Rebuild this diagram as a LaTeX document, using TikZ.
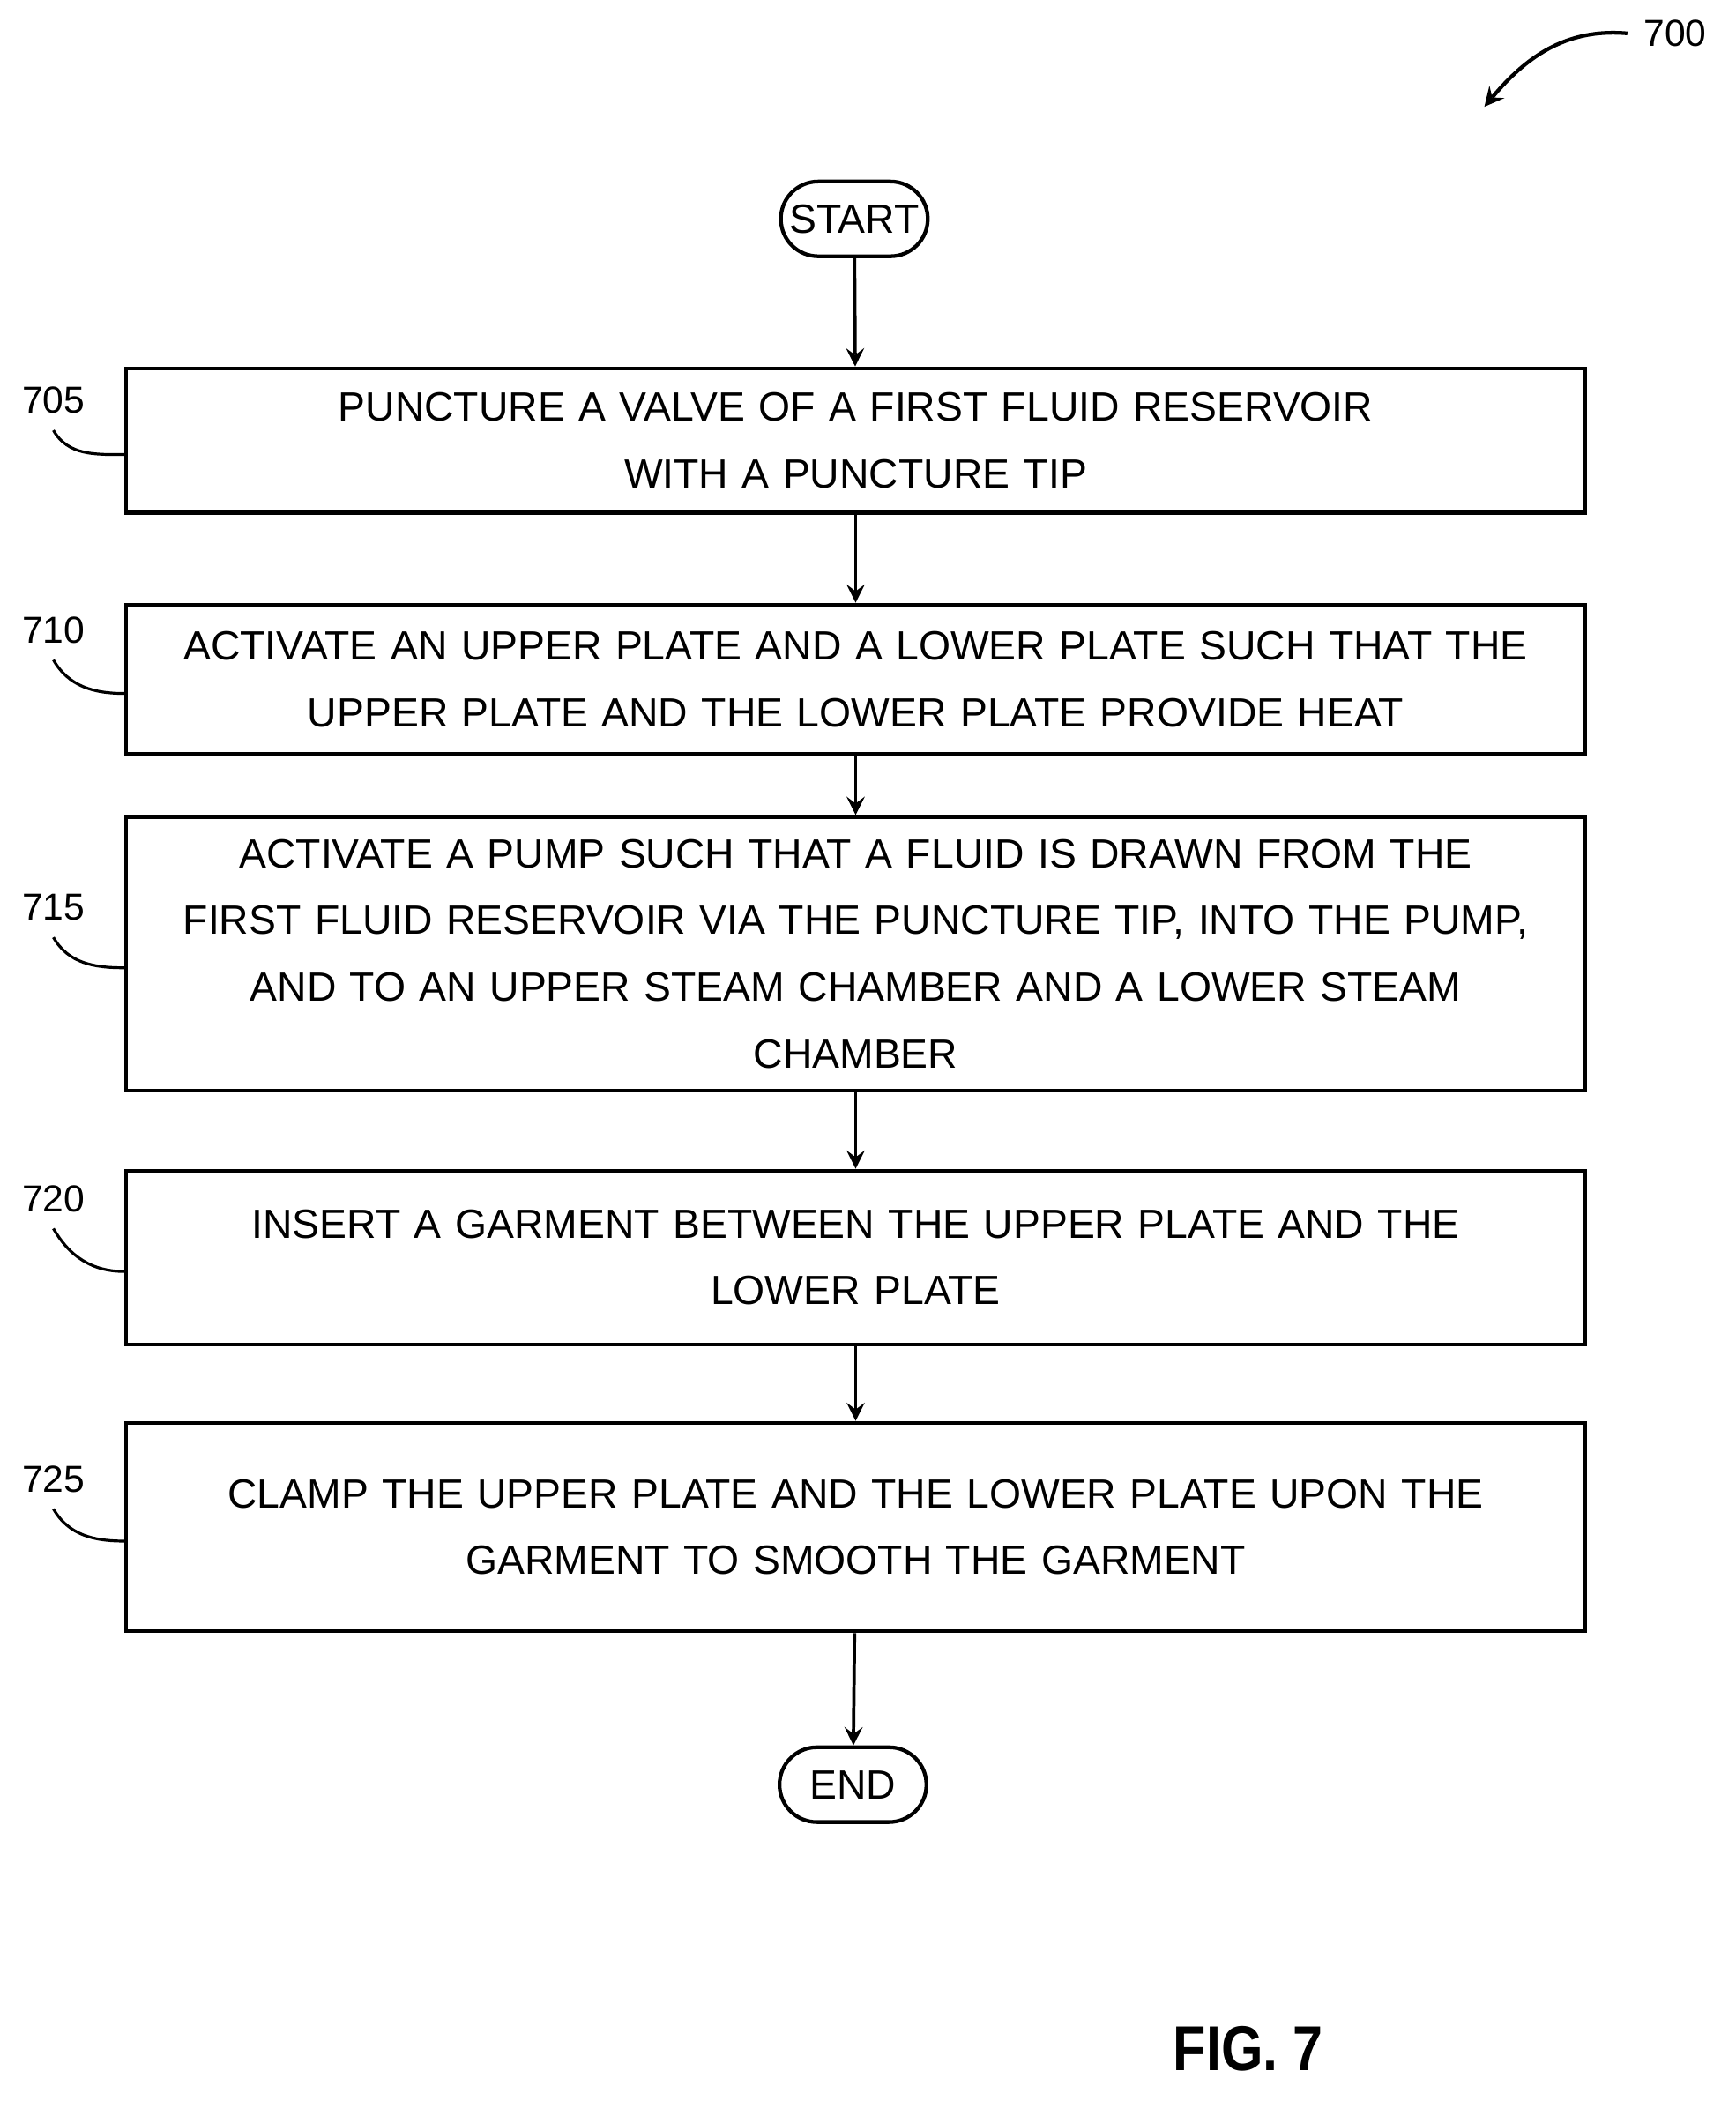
\documentclass[tikz,border=0pt]{standalone}
\usepackage{fontspec}
\setmainfont{Liberation Sans}
\usetikzlibrary{positioning, shapes}

\tikzset{
  procbox/.style={draw, line width=0.8pt, rectangle, minimum width=10.92cm, text width=10.9cm, align=center, font=\fontsize{8.7}{14.2}\selectfont, inner sep=0pt},
  term/.style={draw, line width=0.8pt, rounded rectangle, minimum width=1.5cm, minimum height=0.56cm, inner xsep=0.2cm, font=\fontsize{8.7}{10}\selectfont},
  lab/.style={font=\fontsize{8}{9}\selectfont},
  flow/.style={->, >=stealth, line width=0.7pt},
}

\begin{document}
\begin{tikzpicture}[x=0.01cm,y=0.01cm]
\useasboundingbox (0,0) rectangle (1300,-1574);

\node[term] (start) at (640,-164) {START};
\node[procbox, minimum height=1.08cm] (b705) at (641,-330) {PUNCTURE A VALVE OF A FIRST FLUID RESERVOIR\\WITH A PUNCTURE TIP};
\node[procbox, minimum height=1.12cm] (b710) at (641,-509) {ACTIVATE AN UPPER PLATE AND A LOWER PLATE SUCH THAT THE\\UPPER PLATE AND THE LOWER PLATE PROVIDE HEAT};
\node[procbox, minimum height=2.05cm] (b715) at (641,-714.5) {ACTIVATE A PUMP SUCH THAT A FLUID IS DRAWN FROM THE\\FIRST FLUID RESERVOIR VIA THE PUNCTURE TIP, INTO THE PUMP,\\AND TO AN UPPER STEAM CHAMBER AND A LOWER STEAM\\CHAMBER};
\node[procbox, minimum height=1.30cm] (b720) at (641,-942) {INSERT A GARMENT BETWEEN THE UPPER PLATE AND THE\\LOWER PLATE};
\node[procbox, minimum height=1.56cm] (b725) at (641,-1144) {CLAMP THE UPPER PLATE AND THE LOWER PLATE UPON THE\\GARMENT TO SMOOTH THE GARMENT};
\node[term] (end) at (639,-1337) {END};

\draw[flow] (start) -- (b705);
\draw[flow] (b705) -- (b710);
\draw[flow] (b710) -- (b715);
\draw[flow] (b715) -- (b720);
\draw[flow] (b720) -- (b725);
\draw[flow] (b725) -- (end);

% step numbers
\foreach \n/\y in {705/300, 710/472, 715/680, 720/898, 725/1108} {
  \node[lab] (l\n) at (40,-\y) {\n};
  \draw[line width=0.6pt] (l\n.south) to[out=-60,in=180] ([yshift=-3]b\n.west);
}

\node[lab] (l700) at (1255,-25) {700};
\coordinate (t700) at (1112,-80);
\draw[->, >=stealth, line width=0.8pt] (l700.west) to[out=175,in=50] (t700);

\node[font=\bfseries\fontsize{13.5}{16}\selectfont, xscale=0.85] (fig) at (935,-1535) {FIG. 7};
\end{tikzpicture}
\end{document}
